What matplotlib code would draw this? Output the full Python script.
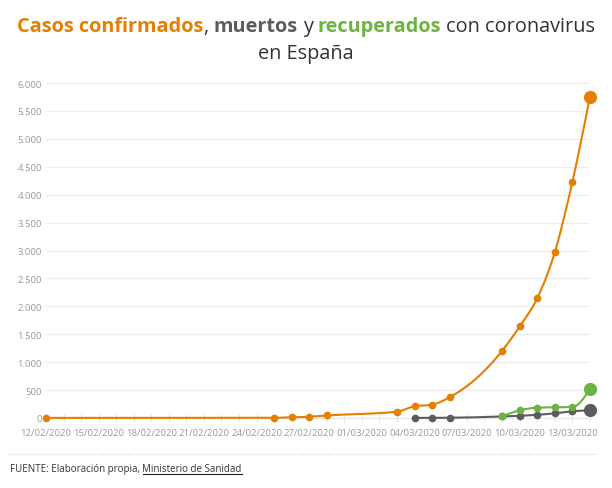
import datetime as dt
import numpy as np
import matplotlib
matplotlib.use("Agg")
import matplotlib.pyplot as plt
import matplotlib.dates as mdates
from matplotlib.path import Path
from matplotlib.patches import PathPatch
from matplotlib.ticker import FixedLocator, FuncFormatter

# Datos
fechas_confirmados = ["2020-02-12", "2020-02-25", "2020-02-26", "2020-02-27", "2020-02-28",
                      "2020-03-03", "2020-03-04", "2020-03-05", "2020-03-06", "2020-03-09",
                      "2020-03-10", "2020-03-11", "2020-03-12", "2020-03-13", "2020-03-14"]
confirmados = [2, 4, 13, 23, 45, 113, 210, 238, 371, 1206, 1643, 2150, 2975, 4235, 5758]

fechas_muertos = ["2020-03-04", "2020-03-05", "2020-03-06", "2020-03-09", "2020-03-10",
                  "2020-03-11", "2020-03-12", "2020-03-13", "2020-03-14"]
muertos = [2, 3, 5, 28, 40, 58, 84, 120, 138]

fechas_recuperados = ["2020-03-09", "2020-03-10", "2020-03-11", "2020-03-12", "2020-03-13", "2020-03-14"]
recuperados = [30, 138, 185, 192, 197, 520]

etiquetas_x = ["12/02/2020", "15/02/2020", "18/02/2020", "21/02/2020", "24/02/2020", "27/02/2020",
               "01/03/2020", "04/03/2020", "07/03/2020", "10/03/2020", "13/03/2020"]
valores_y = [0, 500, 1000, 1500, 2000, 2500, 3000, 3500, 4000, 4500, 5000, 5500, 6000]

NARANJA = "#e67e00"
GRIS = "#5c5c5c"
VERDE = "#6cb33f"
TEXTO = "#333333"


def a_num(fechas):
    return mdates.date2num([dt.datetime.strptime(f, "%Y-%m-%d") for f in fechas])


def curva_monotona(x, y):
    # curva monótona en x (como d3.curveMonotoneX)
    n = len(x)
    m = [0.0] * n
    for i in range(1, n - 1):
        h0 = x[i] - x[i - 1]
        h1 = x[i + 1] - x[i]
        s0 = (y[i] - y[i - 1]) / h0
        s1 = (y[i + 1] - y[i]) / h1
        p = (s0 * h1 + s1 * h0) / (h0 + h1)
        m[i] = (np.sign(s0) + np.sign(s1)) * min(abs(s0), abs(s1), 0.5 * abs(p))
    m[0] = (3 * (y[1] - y[0]) / (x[1] - x[0]) - m[1]) / 2
    m[-1] = (3 * (y[-1] - y[-2]) / (x[-1] - x[-2]) - m[-2]) / 2
    verts = [(x[0], y[0])]
    codes = [Path.MOVETO]
    for i in range(1, n):
        dx = (x[i] - x[i - 1]) / 3
        verts += [(x[i - 1] + dx, y[i - 1] + dx * m[i - 1]),
                  (x[i] - dx, y[i] - dx * m[i]), (x[i], y[i])]
        codes += [Path.CURVE4] * 3
    return Path(verts, codes)


fig = plt.figure(figsize=(6.12, 4.89), dpi=100)
ax = fig.add_axes([46 / 612, 1 - 419 / 489, (590 - 46) / 612, (419 - 84) / 489])

series = [
    (fechas_muertos, muertos, GRIS),
    (fechas_recuperados, recuperados, VERDE),
    (fechas_confirmados, confirmados, NARANJA),
]
for z, (fechas, valores, color) in enumerate(series):
    xs = a_num(fechas)
    ax.add_patch(PathPatch(curva_monotona(list(xs), list(valores)), fill=False,
                           edgecolor=color, lw=1.5, zorder=3 + z, clip_on=False))
    ax.plot(xs[:-1], valores[:-1], "o", color=color, ms=5.5, mec="none",
            zorder=3 + z, clip_on=False)
    ax.plot(xs[-1:], valores[-1:], "o", color=color, ms=9.5, mec="none",
            zorder=3 + z, clip_on=False)

ax.set_xlim(a_num(["2020-02-12", "2020-03-14"]))
ax.set_ylim(0, 6000)

ax.xaxis.set_major_locator(FixedLocator(a_num([dt.datetime.strptime(e, "%d/%m/%Y").strftime("%Y-%m-%d")
                                               for e in etiquetas_x])))
ax.set_xticklabels(etiquetas_x)
ax.xaxis.set_minor_locator(mdates.DayLocator())
ax.set_yticks(valores_y)
ax.yaxis.set_major_formatter(FuncFormatter(lambda v, p: f"{v:,.0f}".replace(",", ".")))

ax.tick_params(axis="x", which="both", direction="inout", length=6, width=0.8,
               color="#e6e6e6", labelsize=6.8, labelcolor="#999999", pad=4)
ax.tick_params(axis="y", length=0, labelsize=6.8, labelcolor="#999999", pad=3)
ax.grid(axis="y", color="#ececec", lw=0.8)
ax.set_axisbelow(True)
for lado in ["left", "right", "top"]:
    ax.spines[lado].set_visible(False)
ax.spines["bottom"].set_color("#e6e6e6")

for lab in ax.get_xticklabels() + ax.get_yticklabels():
    lab.set_family("Open Sans")

# Título con colores
renderer = fig.canvas.get_renderer()
W, H = 612, 489


def ancho(texto, **kw):
    t = fig.text(0, 0, texto, **kw)
    w = t.get_window_extent(renderer).width
    t.remove()
    return w


piezas = [("Casos confirmados", NARANJA, "bold", False),
          (",", TEXTO, "normal", False),
          ("muertos", GRIS, "bold", True),
          ("y", TEXTO, "normal", True),
          ("recuperados", VERDE, "bold", True),
          ("con coronavirus", TEXTO, "normal", True)]
tam = 14.3
fuente = "Open Sans"
espacio = ancho("a a", size=tam, family=fuente) - ancho("aa", size=tam, family=fuente)
anchos = [ancho(p[0], size=tam, family=fuente, weight=p[2]) for p in piezas]
total = sum(anchos) + espacio * sum(p[3] for p in piezas)
x = (W - total) / 2
for (texto, color, peso, esp), w in zip(piezas, anchos):
    if esp:
        x += espacio
    fig.text(x / W, 1 - 32 / H, texto, color=color, weight=peso, size=tam,
             family=fuente, va="baseline", ha="left")
    x += w
fig.text(0.5, 1 - 59 / H, "en España", color=TEXTO, size=tam, family=fuente,
         va="baseline", ha="center")

# Pie
fig.add_artist(plt.Line2D([8 / W, 597 / W], [1 - 455 / H] * 2, color="#cccccc",
                          lw=0.8, ls=(0, (1, 1.5))))
f1 = "FUENTE: Elaboración propia, "
pie_kw = dict(size=7, family=fuente, color=TEXTO, va="baseline", ha="left")
fig.text(10 / W, 1 - 472 / H, f1, **pie_kw)
w1 = ancho("FUENTE: Elaboración propia,", size=7, family=fuente) + \
    ancho("a a", size=7, family=fuente) - ancho("aa", size=7, family=fuente)
t2 = fig.text((10 + w1) / W, 1 - 472 / H, "Ministerio de Sanidad", **pie_kw)
w2 = t2.get_window_extent(renderer).width
fig.add_artist(plt.Line2D([(10 + w1) / W, (10 + w1 + w2) / W], [1 - 474.5 / H] * 2,
                          color="#222222", lw=0.8))

fig.savefig("out.png", dpi=100)
